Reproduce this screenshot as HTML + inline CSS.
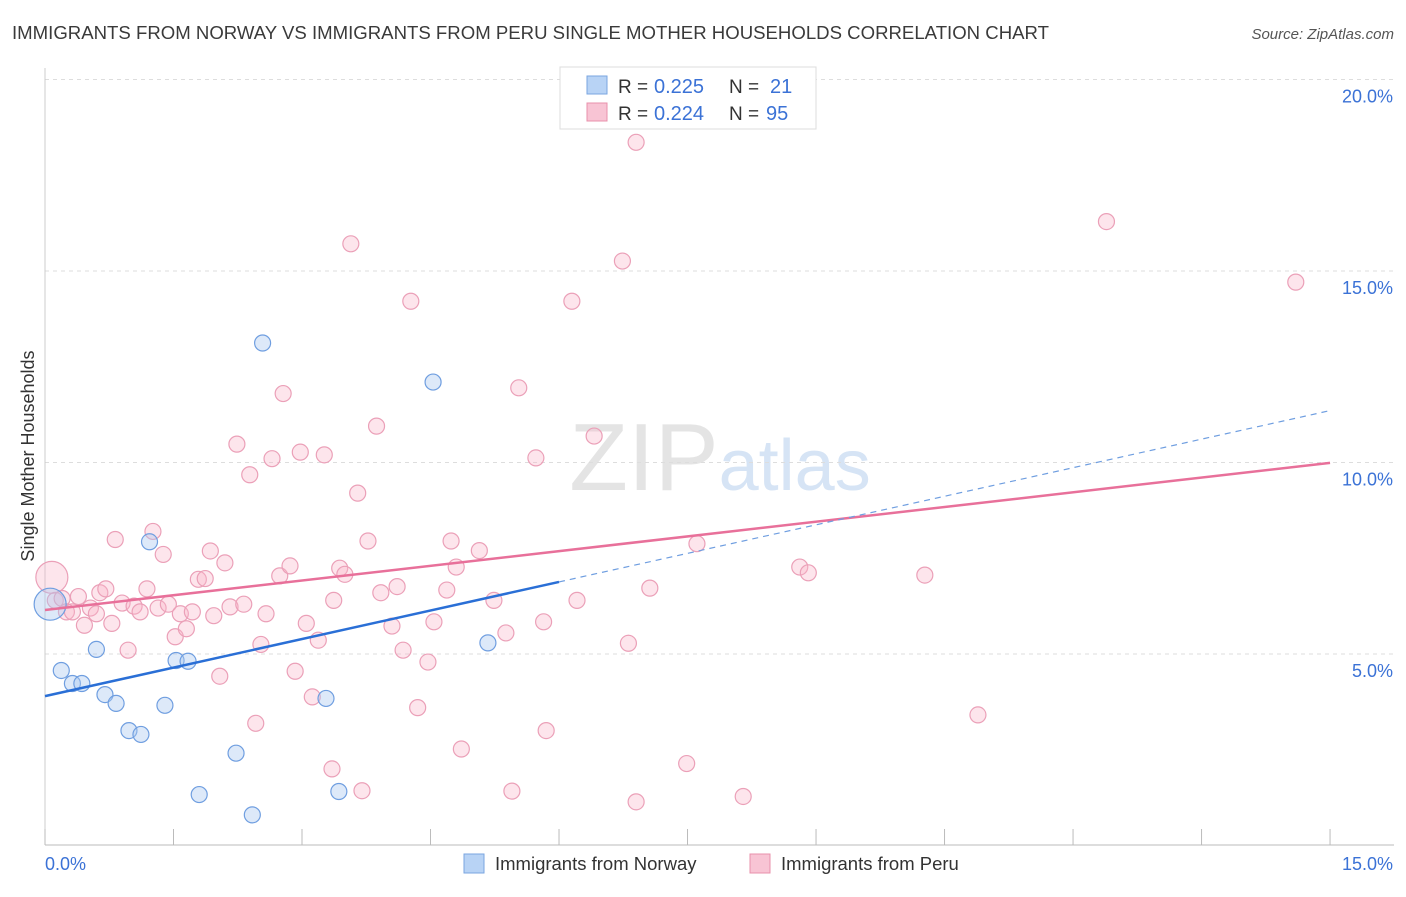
<!DOCTYPE html>
<html><head><meta charset="utf-8"><style>
body{margin:0;background:#fff;font-family:"Liberation Sans",sans-serif;}
svg text{font-family:"Liberation Sans",sans-serif;}
</style></head><body>
<svg id="chart" width="1406" height="892" xmlns="http://www.w3.org/2000/svg">
<text x="12" y="39" font-size="18.6" fill="#3a3a3a" textLength="1037" lengthAdjust="spacingAndGlyphs">IMMIGRANTS FROM NORWAY VS IMMIGRANTS FROM PERU SINGLE MOTHER HOUSEHOLDS CORRELATION CHART</text>
<text x="1394" y="39" font-size="15" fill="#555" text-anchor="end" font-style="italic">Source: ZipAtlas.com</text>
<text x="720" y="490" font-size="96" fill="#e4e4e4" text-anchor="middle" font-family="Liberation Serif">ZIP<tspan fill="#d6e4f5" font-family="Liberation Sans" font-size="72">atlas</tspan></text>
<g id="grid"></g><g id="axes"></g><g id="marks"></g>
<text transform="translate(34,456) rotate(-90)" font-size="18" fill="#333" text-anchor="middle">Single Mother Households</text>
<g>
<rect x="560" y="67" width="256" height="62" fill="#fff" stroke="#ddd"/>
<rect x="587" y="76" width="20" height="18" fill="#b8d3f5" stroke="#7aa6e0"/>
<text x="618" y="93" font-size="19" fill="#333">R =</text>
<text x="654" y="93" font-size="20" fill="#3b72d6">0.225</text>
<text x="729" y="93" font-size="19" fill="#333">N =</text>
<text x="770" y="93" font-size="20" fill="#3b72d6">21</text>
<rect x="587" y="103" width="20" height="18" fill="#f8c4d4" stroke="#e890ab"/>
<text x="618" y="120" font-size="19" fill="#333">R =</text>
<text x="654" y="120" font-size="20" fill="#3b72d6">0.224</text>
<text x="729" y="120" font-size="19" fill="#333">N =</text>
<text x="766" y="120" font-size="20" fill="#3b72d6">95</text>
</g>
<g>
<rect x="464" y="854" width="20" height="19" fill="#b8d3f5" stroke="#7aa6e0"/>
<text x="495" y="870" font-size="18.5" fill="#333">Immigrants from Norway</text>
<rect x="750" y="854" width="20" height="19" fill="#f8c4d4" stroke="#e890ab"/>
<text x="781" y="870" font-size="18.5" fill="#333">Immigrants from Peru</text>
</g>
</svg>
<script>
const norwayX=[0.06,0.19,0.32,0.43,0.60,0.70,0.83,0.98,1.12,1.22,1.40,1.53,1.67,1.80,2.23,2.42,2.54,3.28,3.43,4.53,5.17];
const norwayY=[6.3,4.57,4.23,4.23,5.12,3.94,3.71,3.0,2.9,7.93,3.66,4.83,4.81,1.33,2.41,0.80,13.12,3.84,1.41,12.1,5.29];
const peruX=[0.08,0.12,0.20,0.25,0.32,0.39,0.46,0.53,0.60,0.64,0.71,0.78,0.82,0.90,0.97,1.04,1.11,1.19,1.26,1.32,1.38,1.44,1.52,1.58,1.65,1.72,1.79,1.87,1.93,1.97,2.04,2.10,2.16,2.24,2.32,2.39,2.46,2.52,2.58,2.65,2.74,2.78,2.86,2.92,2.98,3.05,3.12,3.19,3.26,3.35,3.37,3.44,3.50,3.57,3.65,3.70,3.77,3.87,3.92,4.05,4.11,4.18,4.27,4.35,4.47,4.54,4.69,4.74,4.80,4.86,5.07,5.24,5.38,5.45,5.53,5.73,5.82,5.85,6.15,6.21,6.41,6.74,6.81,6.90,6.90,7.06,7.49,7.61,8.15,8.81,8.91,10.27,10.89,12.39,14.60];
const peruY=[7.0,6.4,6.45,6.1,6.1,6.5,5.75,6.2,6.05,6.6,6.7,5.8,7.99,6.33,5.1,6.25,6.1,6.7,8.2,6.2,7.6,6.3,5.45,6.05,5.66,6.1,6.95,6.97,7.69,6.0,4.42,7.38,6.23,10.48,6.3,9.68,3.19,5.25,6.05,10.1,7.04,11.8,7.3,4.55,10.27,5.8,3.88,5.36,10.2,2.0,6.4,7.24,7.08,15.71,9.2,1.43,7.95,10.95,6.6,5.73,6.76,5.1,14.21,3.6,4.79,5.84,6.67,7.95,7.27,2.52,7.7,6.4,5.55,1.42,11.95,10.12,5.84,3.0,14.21,6.4,10.69,15.26,5.28,1.14,18.36,6.72,2.14,7.88,1.28,7.27,7.12,7.06,3.41,16.29,14.71];
const tickY=[5,10,15,20];
const tickLabelsY=["5.0%","10.0%","15.0%","20.0%"];
const tickX=[0,1.5,3,4.5,6,7.5,9,10.5,12,13.5,15];
const norwayLine=[3.9,0.497];
const peruLine=[6.15,0.256];
const NS="http://www.w3.org/2000/svg";
const sx=v=>45+v*85.67, sy=v=>845.5-v*38.3;
function mk(tag,attrs,parent){const e=document.createElementNS(NS,tag);for(const k in attrs)e.setAttribute(k,attrs[k]);document.getElementById(parent).appendChild(e);return e;}
tickY.forEach((t,i)=>{
 const l=mk('line',{x1:45,x2:1394,y1:sy(t),y2:sy(t),stroke:'#ddd','stroke-dasharray':'4,4'},'grid');
 
 
 const tx=mk('text',{x:1393,y:sy(t)+23,'font-size':18,fill:'#3b72d6','text-anchor':'end'},'axes');
 tx.textContent=tickLabelsY[i];
 
 
});
const ax=mk('line',{x1:45,x2:1394,y1:845,y2:845,stroke:'#bbb'},'axes');


const ay=mk('line',{x1:45,x2:45,y1:68,y2:845,stroke:'#ccc'},'axes');


tickX.forEach(t=>{const l=mk('line',{x1:sx(t),x2:sx(t),y1:829,y2:845,stroke:'#bbb'},'axes');
 
 });
const x0=mk('text',{x:45,y:870,'font-size':18,fill:'#3b72d6'},'axes');x0.textContent="0.0%";


const x1=mk('text',{x:1393,y:870,'font-size':18,fill:'#3b72d6','text-anchor':'end'},'axes');x1.textContent="15.0%";


peruX.forEach((x,i)=>{const c=mk('circle',{cx:sx(x),cy:sy(peruY[i]),r:i==0?16:8,fill:'rgba(248,180,200,0.35)',stroke:'#eba0b8','stroke-width':1.2},'marks');
 
 });
norwayX.forEach((x,i)=>{const c=mk('circle',{cx:sx(x),cy:sy(norwayY[i]),r:i==0?16:8,fill:'rgba(170,200,240,0.4)',stroke:'#6f9ee0','stroke-width':1.2},'marks');
 
 });
const lp=mk('line',{x1:sx(0),y1:sy(peruLine[0]),x2:sx(15),y2:sy(peruLine[0]+peruLine[1]*15),stroke:'#e8709a','stroke-width':2.5},'marks');


const ln=mk('line',{x1:sx(0),y1:sy(norwayLine[0]),x2:sx(6),y2:sy(norwayLine[0]+norwayLine[1]*6),stroke:'#2a6fd6','stroke-width':2.5},'marks');


const ld=mk('line',{x1:sx(6),y1:sy(norwayLine[0]+norwayLine[1]*6),x2:sx(15),y2:sy(norwayLine[0]+norwayLine[1]*15),stroke:'#6f9ee0','stroke-width':1.2,'stroke-dasharray':'6,5'},'marks');


</script>
</body></html>
